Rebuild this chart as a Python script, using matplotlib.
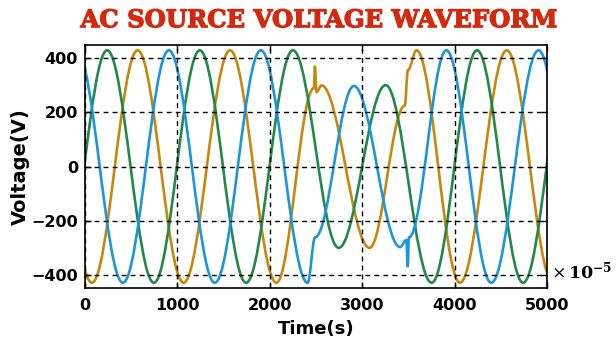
import matplotlib
matplotlib.use("Agg")
import matplotlib.pyplot as plt
import matplotlib.patheffects as pe
from matplotlib.path import Path
from matplotlib.patches import PathPatch

# Waveform knots: time (x 1e-5 s) and voltage (V) at each extreme / transient point
phase_a_t = [-92, 410, 908, 1405, 1903, 2410, 2490, 2910, 3410, 3478, 3492, 3506, 3910, 4397, 4908, 5405]
phase_a_v = [430, -430, 430, -430, 430, -430, -262, 298, -298, -272, -369, -262, 430, -430, 430, -430]

phase_b_t = [-428, 75, 570, 1067, 1570, 2072, 2478, 2488, 2505, 2560, 3080, 3460, 3495, 3588, 4058, 4565, 5065]
phase_b_v = [430, -430, 430, -430, 430, -430, 290, 370, 275, 300, -301, 225, 357, 430, -430, 430, -430]

phase_c_t = [-258, 240, 746, 1242, 1744, 2250, 2745, 3254, 3752, 4243, 4742, 5250]
phase_c_v = [-430, 430, -430, 430, -430, 430, -301, 301, -430, 430, -430, 430]

x_ticks = [0, 1000, 2000, 3000, 4000, 5000]
y_ticks = [-400, -200, 0, 200, 400]

colors = {"a": "#1b95dc", "b": "#c8870b", "c": "#23884b"}


def wave_path(t, v, k=0.364):
    """Smooth path through the knots, flat at each knot (sinusoid-like arcs)."""
    verts = [(t[0], v[0])]
    codes = [Path.MOVETO]
    for i in range(1, len(t)):
        t0, v0, t1, v1 = t[i - 1], v[i - 1], t[i], v[i]
        dt = t1 - t0
        verts += [(t0 + k * dt, v0), (t1 - k * dt, v1), (t1, v1)]
        codes += [Path.CURVE4] * 3
    return Path(verts, codes)


fig = plt.figure(figsize=(6.16, 3.48), dpi=100)
ax = fig.add_axes([0.138, 0.172, 0.750, 0.699])

for t, v, key in [(phase_b_t, phase_b_v, "b"), (phase_c_t, phase_c_v, "c"), (phase_a_t, phase_a_v, "a")]:
    ax.add_patch(PathPatch(wave_path(t, v), fill=False, edgecolor=colors[key],
                           linewidth=1.9, joinstyle="round", capstyle="round"))

ax.set_xlim(0, 5000)
ax.set_ylim(-450, 450)
ax.set_xticks(x_ticks)
ax.set_yticks(y_ticks)
ax.grid(True, color="black", linestyle=(0, (3.5, 3)), linewidth=1.0)
ax.set_axisbelow(False)
ax.tick_params(direction="in", top=True, right=True, length=4, width=1, labelsize=11.5)
ax.tick_params(axis="x", pad=7)
ax.tick_params(axis="y", pad=5)
for lbl in ax.get_xticklabels() + ax.get_yticklabels():
    lbl.set_fontweight("bold")
    lbl.set_family("DejaVu Sans")
for sp in ax.spines.values():
    sp.set_linewidth(1.2)

ax.set_xlabel("Time(s)", fontsize=13, fontweight="bold", family="DejaVu Sans", labelpad=5)
ax.set_ylabel("Voltage(V)", fontsize=14, fontweight="bold", family="DejaVu Sans", labelpad=1)

plt.rcParams["mathtext.fontset"] = "dejavuserif"
ax.text(1.008, 0.068, r"$\times\,\mathbf{10^{-5}}$", transform=ax.transAxes,
        fontsize=12.5, ha="left", va="center")

title_color = "#d2290f"
fig.text(0.517, 0.942, "AC SOURCE VOLTAGE WAVEFORM", ha="center", va="center",
         fontsize=17.5, fontweight="bold", family="DejaVu Serif", color=title_color,
         path_effects=[pe.withStroke(linewidth=0.9, foreground=title_color)])

fig.savefig("out.png", dpi=100)
